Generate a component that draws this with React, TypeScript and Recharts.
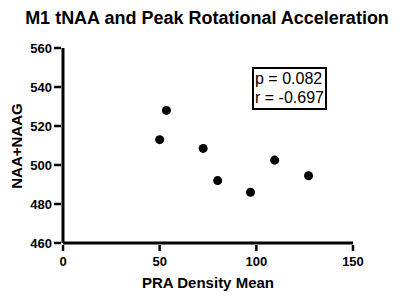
import React from "react"
import { ScatterChart, Scatter, XAxis, YAxis, ReferenceLine } from "recharts"

// PRA density mean vs tNAA (NAA+NAAG)
const praDensity = [50, 53.5, 72.5, 80, 97, 109.5, 127]
const naaNaag = [513, 528, 508.5, 492, 486, 502.5, 494.5]
const xTicks = [0, 50, 100, 150]
const yTicks = [460, 480, 500, 520, 540, 560]

const points = praDensity.map((x, i) => ({ x, y: naaNaag[i] }))

const FONT = "'Liberation Sans', Arial, sans-serif"

// tick marks + labels drawn here so they come out solid black
const XTick = (props: any) => {
  const { x, y, payload } = props
  return (
    <g>
      <line x1={x} y1={y} x2={x} y2={y + 6} stroke="black" strokeWidth={2.5} />
      <text x={x} y={y + 21} textAnchor="middle" fontFamily={FONT} fontSize={13} fontWeight={700} fill="black">
        {payload.value}
      </text>
    </g>
  )
}

const YTick = (props: any) => {
  const { x, y, payload } = props
  return (
    <g>
      <line x1={x - 7} y1={y} x2={x} y2={y} stroke="black" strokeWidth={2.5} />
      <text x={x - 9} y={y + 5} textAnchor="end" fontFamily={FONT} fontSize={13} fontWeight={700} fill="black">
        {payload.value}
      </text>
    </g>
  )
}

export default function App() {
  const labelStyle = {
    position: "absolute" as const,
    fontFamily: FONT,
    fontSize: 15,
    fontWeight: 700,
    color: "black",
    whiteSpace: "nowrap" as const,
    lineHeight: "18px",
  }
  return (
    <div style={{ position: "absolute", left: 0, top: 0, width: 400, height: 300, background: "white" }}>
      <ScatterChart width={400} height={300} margin={{ top: 48, right: 47, bottom: 0, left: 0 }}>
        <XAxis
          type="number"
          dataKey="x"
          domain={[0, 150]}
          ticks={xTicks}
          height={57}
          tickSize={0}
          axisLine={false}
          tickLine={false}
          tick={<XTick />}
        />
        <YAxis
          type="number"
          dataKey="y"
          domain={[460, 560]}
          ticks={yTicks}
          width={63}
          tickSize={0}
          axisLine={false}
          tickLine={false}
          tick={<YTick />}
        />
        <ReferenceLine y={460} stroke="black" strokeWidth={3} />
        <ReferenceLine x={0} stroke="black" strokeWidth={3} />
        <Scatter data={points} fill="black" isAnimationActive={false} />
      </ScatterChart>

      <div
        style={{
          position: "absolute",
          left: 0,
          top: 7,
          width: 414,
          textAlign: "center",
          fontFamily: FONT,
          fontSize: 18,
          fontWeight: 700,
          lineHeight: "22px",
          color: "black",
        }}
      >
        M1 tNAA and Peak Rotational Acceleration
      </div>

      <div style={{ ...labelStyle, left: 58, top: 274, width: 300, textAlign: "center" }}>PRA Density Mean</div>
      <div
        style={{
          ...labelStyle,
          left: 17 - 60,
          top: 146 - 9,
          width: 120,
          textAlign: "center",
          transform: "rotate(-90deg)",
        }}
      >
        NAA+NAAG
      </div>

      <div
        style={{
          position: "absolute",
          left: 252,
          top: 67,
          width: 70,
          height: 39,
          border: "2px solid black",
          paddingLeft: 1,
          fontFamily: FONT,
          fontSize: 16,
          lineHeight: "19px",
          color: "black",
          whiteSpace: "nowrap",
        }}
      >
        <div>p = 0.082</div>
        <div>r = -0.697</div>
      </div>
    </div>
  )
}
